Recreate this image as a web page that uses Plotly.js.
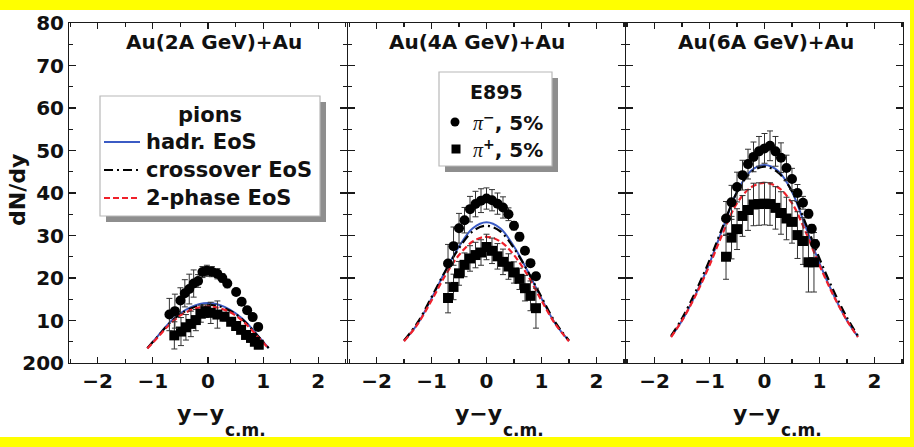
<!DOCTYPE html>
<html>
<head>
<meta charset="utf-8">
<script src="https://cdn.plot.ly/plotly-3.0.1.min.js"></script>
<style>
  html, body { margin: 0; padding: 0; background: #fff; }
  #chart { width: 914px; height: 447px; }
</style>
</head>
<body>
<div id="chart"></div>
<script>
// ---- panel titles ----
const panelTitles = ['Au(2A GeV)+Au', 'Au(4A GeV)+Au', 'Au(6A GeV)+Au'];
const xTitle = 'y−y';
const xTitleSub = 'c.m.';
const yTitle = 'dN/dy';

// ---- hydro model curves: rapidity grid and dN/dy for each EoS ----
const yModel2 = [-1.1, -0.9, -0.7, -0.5, -0.3, -0.15, 0, 0.15, 0.3, 0.5, 0.7, 0.9, 1.1];
const hadr2   = [3.5, 6.5, 9.5, 11.7, 13.2, 13.9, 14.1, 13.9, 13.2, 11.7, 9.5, 6.5, 3.5];
const cross2  = [3.5, 6.4, 9.3, 11.5, 12.9, 13.5, 13.7, 13.5, 12.9, 11.5, 9.3, 6.4, 3.5];
const phase2  = [3.4, 6.2, 9.0, 11.2, 12.5, 13.1, 13.3, 13.1, 12.5, 11.2, 9.0, 6.2, 3.4];

const yModel4 = [-1.5, -1.25, -1.0, -0.75, -0.5, -0.25, 0, 0.25, 0.5, 0.75, 1.0, 1.25, 1.5];
const hadr4   = [5.2, 9.3, 15.2, 21.6, 27.4, 31.7, 33.1, 31.7, 27.4, 21.6, 15.2, 9.3, 5.2];
const cross4  = [5.3, 9.6, 15.5, 21.6, 27.0, 31.0, 32.3, 31.0, 27.0, 21.6, 15.5, 9.6, 5.3];
const phase4  = [5.1, 9.2, 14.7, 20.6, 25.4, 28.6, 29.7, 28.6, 25.4, 20.6, 14.7, 9.2, 5.1];

const yModel6 = [-1.7, -1.5, -1.25, -1.0, -0.75, -0.5, -0.25, 0, 0.25, 0.5, 0.75, 1.0, 1.25, 1.5, 1.7];
const hadr6   = [6.2, 10.0, 16.2, 23.5, 32.0, 40.3, 45.2, 46.6, 45.2, 40.3, 32.0, 23.5, 16.2, 10.0, 6.2];
const cross6  = [6.4, 10.5, 16.9, 24.2, 32.4, 40.2, 44.8, 46.2, 44.8, 40.4, 32.8, 24.6, 17.2, 10.7, 6.4];
const phase6  = [6.1, 10.0, 16.0, 23.0, 30.8, 37.6, 41.3, 42.4, 41.3, 37.6, 30.8, 23.0, 16.0, 10.0, 6.1];

// ---- E895 pi-, 5% central ----
const yPiM2   = [-0.7, -0.6, -0.5, -0.42, -0.34, -0.26, -0.18, -0.1, -0.02, 0.07, 0.17, 0.26, 0.35, 0.51, 0.61, 0.71, 0.81, 0.91];
const piM2    = [11.4, 12.2, 14.7, 16.4, 17.4, 18.7, 19.3, 21.4, 21.7, 21.5, 21.0, 20.0, 18.7, 16.7, 14.4, 12.4, 10.8, 8.5];
const piM2Err = [3.8, 4.0, 3.0, 3.2, 3.5, 3.2, 1.5, 1.3, 1.3, 1.2, 1.2, 1.0, 1.0, 0.8, 0.8, 0.8, 0.8, 0.8];

const yPiM4   = [-0.7, -0.6, -0.5, -0.4, -0.3, -0.2, -0.1, 0, 0.1, 0.2, 0.3, 0.4, 0.5, 0.6, 0.7, 0.8, 0.9];
const piM4    = [23.4, 27.5, 31.7, 33.6, 36.2, 37.4, 38.2, 38.7, 38.3, 37.5, 36.6, 35.0, 32.3, 29.7, 26.4, 23.5, 20.4];
const piM4Err = [4.5, 4.5, 3.5, 3.0, 3.0, 3.0, 2.8, 2.5, 2.5, 2.5, 2.5, 1.5, 1.0, 1.0, 0.8, 0.8, 0.8];

const yPiM6   = [-0.7, -0.6, -0.5, -0.4, -0.3, -0.2, -0.1, 0, 0.1, 0.2, 0.3, 0.4, 0.5, 0.6, 0.7, 0.8, 0.86, 0.92];
const piM6    = [34.0, 37.8, 41.4, 44.2, 46.8, 48.5, 49.8, 50.5, 51.1, 49.8, 48.3, 45.9, 43.3, 40.0, 37.7, 35.1, 31.6, 28.0];
const piM6Err = [4.0, 4.0, 3.5, 3.5, 3.5, 3.5, 3.5, 3.5, 3.5, 3.5, 3.5, 3.0, 2.5, 2.0, 1.5, 1.0, 1.0, 1.0];

// ---- E895 pi+, 5% central ----
const yPiP2   = [-0.61, -0.49, -0.4, -0.31, -0.22, -0.13, -0.04, 0.05, 0.17, 0.3, 0.42, 0.51, 0.6, 0.69, 0.78, 0.85, 0.92];
const piP2    = [6.5, 7.4, 8.4, 9.2, 10.1, 11.6, 12.2, 11.8, 11.4, 10.9, 9.7, 8.7, 7.8, 6.6, 5.9, 5.0, 4.3];
const piP2Err = [3.2, 3.3, 3.0, 3.0, 2.5, 2.0, 1.5, 2.5, 3.2, 1.0, 0.8, 0.8, 0.8, 0.8, 0.8, 0.8, 0.8];

const yPiP4   = [-0.7, -0.6, -0.5, -0.4, -0.3, -0.2, -0.1, 0, 0.1, 0.2, 0.3, 0.4, 0.5, 0.6, 0.7, 0.8, 0.9];
const piP4    = [15.3, 17.9, 21.1, 23.1, 24.6, 25.4, 26.0, 27.3, 26.4, 25.1, 23.8, 22.7, 21.3, 19.8, 17.6, 15.8, 12.9];
const piP4Err = [3.5, 3.0, 2.8, 2.8, 3.0, 3.0, 3.0, 3.0, 3.0, 3.0, 3.0, 3.0, 2.5, 2.5, 3.0, 3.5, 4.7];

const yPiP6   = [-0.7, -0.6, -0.5, -0.4, -0.3, -0.2, -0.1, 0, 0.1, 0.2, 0.3, 0.4, 0.5, 0.6, 0.7, 0.8, 0.9];
const piP6    = [25.0, 29.5, 31.5, 34.6, 36.0, 37.3, 37.4, 37.5, 37.4, 36.5, 35.3, 34.0, 33.2, 30.1, 28.7, 23.7, 23.7];
const piP6Err = [5.3, 5.0, 4.8, 4.8, 4.8, 5.0, 5.0, 5.0, 5.0, 5.0, 5.0, 5.0, 5.0, 5.5, 5.5, 7.0, 7.0];

// ---- axis tick labels ----
const yTickVals = [0, 10, 20, 30, 40, 50, 60, 70, 80];
const yTickText = ['200', '10', '20', '30', '40', '50', '60', '70', '80'];

// ---- legend labels ----
const modelLegendTitle = 'pions';
const modelNames = ['hadr. EoS', 'crossover EoS', '2-phase EoS'];
const dataLegendTitle = 'E895';
const piSym = '<span style="font-family:Liberation Serif;font-weight:normal;font-style:italic">π</span>';
const dataNames = [piSym + '<sup>−</sup>, 5%', piSym + '<sup>+</sup>, 5%'];

// ---------------------------------------------------------------
const W = 914, H = 447;
const M = { l: 69, r: 11, t: 23, b: 84 };
const PW = W - M.l - M.r, PH = H - M.t - M.b;
const px = v => (v - M.l) / PW;        // pixel column -> paper x
const py = v => (H - M.b - v) / PH;    // pixel row -> paper y

// panel column edges in pixels (shared frame lines land on the same column)
const colEdges = [[69, 347], [348, 625], [626, 903]];

const FONT = 'DejaVu Sans, Liberation Sans, Arial, sans-serif';
const AXC = '#1a1a1a';
const BLUE = '#3b5bc4', RED = '#f0202a', BLACK = '#000';

const modelSets = [
  [yModel2, hadr2, cross2, phase2],
  [yModel4, hadr4, cross4, phase4],
  [yModel6, hadr6, cross6, phase6]
];
const dataSets = [
  [yPiM2, piM2, piM2Err, yPiP2, piP2, piP2Err],
  [yPiM4, piM4, piM4Err, yPiP4, piP4, piP4Err],
  [yPiM6, piM6, piM6Err, yPiP6, piP6, piP6Err]
];

const curveStyles = [
  { color: BLUE, width: 2, dash: 'solid' },
  { color: BLACK, width: 2.2, dash: '9px,4px,2px,4px' },
  { color: RED, width: 2.2, dash: '6px,3px' }
];

const traces = [];
modelSets.forEach((s, i) => {
  const xa = i === 0 ? 'x' : 'x' + (i + 1);
  const ya = i === 0 ? 'y' : 'y' + (i + 1);
  [s[1], s[2], s[3]].forEach((vals, k) => {
    traces.push({
      x: s[0], y: vals, xaxis: xa, yaxis: ya, type: 'scatter', mode: 'lines',
      name: modelNames[k], showlegend: false, hoverinfo: 'skip',
      line: Object.assign({ shape: 'spline', smoothing: 1 }, curveStyles[k])
    });
  });
  const d = dataSets[i];
  traces.push({
    x: d[3], y: d[4], xaxis: xa, yaxis: ya, type: 'scatter', mode: 'markers',
    name: 'π+', showlegend: false,
    marker: { symbol: 'square', size: 10, color: '#000' },
    error_y: { type: 'data', array: d[5], color: '#333', thickness: 1, width: 3 }
  });
  traces.push({
    x: d[0], y: d[1], xaxis: xa, yaxis: ya, type: 'scatter', mode: 'markers',
    name: 'π−', showlegend: false,
    marker: { symbol: 'circle', size: 10, color: '#000' },
    error_y: { type: 'data', array: d[2], color: '#333', thickness: 1, width: 3 }
  });
});

const tickFont = () => ({ family: FONT, size: 20, color: '#111', weight: 'bold' });

function xAxis(i) {
  return {
    domain: [px(colEdges[i][0]), px(colEdges[i][1])],
    anchor: i === 0 ? 'y' : 'y' + (i + 1),
    range: [-2.52, 2.52],
    tickmode: 'linear', tick0: 0, dtick: 1,
    ticks: 'inside', ticklen: 6, tickwidth: 1.2, tickcolor: AXC,
    minor: { tickmode: 'linear', tick0: 0, dtick: 0.5, ticks: 'inside', ticklen: 4, tickcolor: AXC, tickwidth: 1.2 },
    showline: true, linecolor: AXC, linewidth: 1, mirror: 'ticks',
    showgrid: false, zeroline: false,
    tickfont: tickFont()
  };
}
function yAxis(i) {
  return {
    domain: [0, 1],
    anchor: i === 0 ? 'x' : 'x' + (i + 1),
    range: [0, 80],
    tickmode: 'array', tickvals: yTickVals, ticktext: yTickText,
    ticks: 'inside', ticklen: 7, tickwidth: 1.2, tickcolor: AXC,
    minor: { tickmode: 'linear', tick0: 0, dtick: 5, ticks: 'inside', ticklen: 4, tickcolor: AXC, tickwidth: 1.2 },
    showline: true, linecolor: AXC, linewidth: 1, mirror: 'ticks',
    showgrid: false, zeroline: false,
    tickfont: tickFont(),
    showticklabels: i === 0
  };
}

const shapes = [];
const annotations = [];
const boldFont = size => ({ family: FONT, size: size, color: '#111', weight: 'bold' });

// panel titles and axis titles
const titleX = [0.11, -0.18, 0.02];
panelTitles.forEach((t, i) => {
  const xr = i === 0 ? 'x' : 'x' + (i + 1);
  annotations.push({
    text: t, xref: xr, yref: 'paper',
    x: titleX[i], y: py(42), xanchor: 'center', yanchor: 'middle', showarrow: false,
    font: boldFont(20)
  });
  annotations.push({
    text: xTitle, xref: xr, yref: 'paper', x: -0.14, y: py(414),
    xanchor: 'center', yanchor: 'middle', showarrow: false, font: boldFont(22)
  });
  annotations.push({
    text: xTitleSub, xref: xr, yref: 'paper', x: 0.27, y: py(430),
    xanchor: 'left', yanchor: 'middle', showarrow: false, font: boldFont(17)
  });
});
annotations.push({
  text: yTitle, xref: 'paper', yref: 'paper', x: px(17), y: py(190), textangle: -90,
  xanchor: 'center', yanchor: 'middle', showarrow: false, font: boldFont(22)
});

// framed legend box with drop shadow
function legendBox(x0, y0, x1, y1) {
  shapes.push({ type: 'rect', xref: 'paper', yref: 'paper', x0: px(x0 + 6), x1: px(x1 + 6), y0: py(y0 + 6), y1: py(y1 + 6),
    fillcolor: '#8e8e8e', line: { width: 0 }, layer: 'above' });
  shapes.push({ type: 'rect', xref: 'paper', yref: 'paper', x0: px(x0), x1: px(x1), y0: py(y0), y1: py(y1),
    fillcolor: '#fff', line: { color: '#b8b8b8', width: 1.2 }, layer: 'above' });
}

// model legend (left panel)
legendBox(100, 96, 320, 216);
annotations.push({ text: modelLegendTitle, xref: 'paper', yref: 'paper', x: px(210), y: py(115),
  xanchor: 'center', yanchor: 'middle', showarrow: false, font: boldFont(21) });
const rowY = [142, 170, 198];
modelNames.forEach((n, k) => {
  shapes.push({ type: 'line', xref: 'paper', yref: 'paper', x0: px(104), x1: px(140), y0: py(rowY[k]), y1: py(rowY[k]),
    line: Object.assign({}, curveStyles[k]), layer: 'above' });
  annotations.push({ text: n, xref: 'paper', yref: 'paper', x: px(144), y: py(rowY[k]),
    xanchor: 'left', yanchor: 'middle', showarrow: false, font: boldFont(21) });
});

// data legend (middle panel)
legendBox(439, 72, 552, 166);
annotations.push({ text: dataLegendTitle, xref: 'paper', yref: 'paper', x: px(496), y: py(92),
  xanchor: 'center', yanchor: 'middle', showarrow: false, font: boldFont(19) });
shapes.push({ type: 'circle', xref: 'paper', yref: 'paper', x0: px(450.5), x1: px(459.5), y0: py(117.5), y1: py(126.5),
  fillcolor: '#000', line: { width: 0 }, layer: 'above' });
shapes.push({ type: 'rect', xref: 'paper', yref: 'paper', x0: px(451.5), x1: px(460.5), y0: py(144.5), y1: py(153.5),
  fillcolor: '#000', line: { width: 0 }, layer: 'above' });
[122, 149].forEach((yy, k) => {
  annotations.push({ text: dataNames[k], xref: 'paper', yref: 'paper', x: px(471), y: py(yy),
    xanchor: 'left', yanchor: 'middle', showarrow: false, font: boldFont(20) });
});

// yellow frame strips
const YEL = '#ffff00';
shapes.push({ type: 'rect', xref: 'paper', yref: 'paper', x0: px(-2), x1: px(W + 2), y0: py(-2), y1: py(10), fillcolor: YEL, line: { width: 0 }, layer: 'above' });
shapes.push({ type: 'rect', xref: 'paper', yref: 'paper', x0: px(-2), x1: px(W + 2), y0: py(437), y1: py(H + 2), fillcolor: YEL, line: { width: 0 }, layer: 'above' });
shapes.push({ type: 'rect', xref: 'paper', yref: 'paper', x0: px(910), x1: px(W + 2), y0: py(-2), y1: py(H + 2), fillcolor: YEL, line: { width: 0 }, layer: 'above' });

const layout = {
  width: W, height: H,
  margin: M,
  paper_bgcolor: '#fff', plot_bgcolor: '#fff',
  showlegend: false,
  font: { family: FONT, color: '#111' },
  xaxis: xAxis(0), xaxis2: xAxis(1), xaxis3: xAxis(2),
  yaxis: yAxis(0), yaxis2: yAxis(1), yaxis3: yAxis(2),
  shapes: shapes,
  annotations: annotations
};

Plotly.newPlot('chart', traces, layout, { staticPlot: true, displayModeBar: false });
</script>
</body>
</html>
